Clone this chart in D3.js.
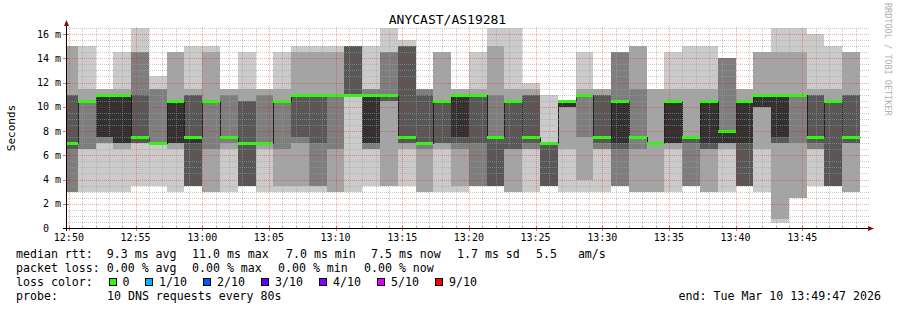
<!DOCTYPE html>
<html>
<head>
<meta charset="utf-8">
<script src="https://cdn.jsdelivr.net/npm/d3@7"></script>
<style>
	body { margin: 0; background: #fff; }
	text { font-family: "DejaVu Sans Mono", monospace; fill: #000; white-space: pre; }
</style>
</head>
<body>
<svg id="chart" width="897" height="310"></svg>
<script>
/**
 * Data.
 */
var title = "ANYCAST/AS19281";
var graphEnd = new Date(2026, 2, 10, 13, 49, 47); // end of the graph
var firstStepEnd = new Date(2026, 2, 10, 12, 50, 40); // end of the first rrd step
var stepSeconds = 80;

// 10 sorted pings (ms) for every 80s step.
var pings = [
	[3, 3, 3, 6.5, 7, 7, 11, 11, 15, 15],
	[3, 6.5, 6.5, 10.5, 10.5, 10.5, 10.5, 10.5, 11.5, 15],
	[3, 7, 7, 7.5, 7.5, 11, 11, 11, 11.5, 11.5],
	[3, 6.5, 7, 7, 7, 11, 11, 11, 11.5, 14.5],
	[3.5, 7, 7, 7, 7.5, 7.5, 11, 14.5, 14.5, 16.5],
	[3.5, 7, 7, 7, 7, 7, 7, 11.5, 11.5, 12.5],
	[3, 6.5, 7, 7, 7, 10.5, 10.5, 10.5, 14.5, 14.5],
	[3.5, 3.5, 3.5, 3.5, 7, 7.5, 11, 11, 11.5, 15],
	[3, 3, 6.5, 10.5, 10.5, 10.5, 10.5, 10.5, 14.5, 15],
	[3, 6.5, 7, 7.5, 7.5, 7.5, 7.5, 11, 11.5, 11.5],
	[3.5, 3.5, 3.5, 3.5, 7, 7, 10.5, 10.5, 11.5, 14.5],
	[3, 6.5, 7, 7, 7, 7, 7, 11, 11.5, 11.5],
	[3, 3.5, 6.5, 10.5, 10.5, 10.5, 10.5, 10.5, 11.5, 14.5],
	[3, 3.5, 7, 7.5, 11, 11, 11, 11, 14.5, 15],
	[3, 3.5, 3.5, 7, 11, 11, 11, 11, 14.5, 15],
	[3, 3, 6.5, 11, 11, 11, 11, 11, 14.5, 15],
	[3, 11, 11, 11, 11, 11, 15, 15, 15, 15],
	[3.5, 6.5, 6.5, 7, 7, 11, 11, 11.5, 11.5, 15],
	[3.5, 3.5, 10.5, 10.5, 11, 11, 11, 14.5, 14.5, 16.5],
	[3.5, 6.5, 7, 7, 7.5, 7.5, 15, 15, 15, 15.5],
	[3, 3, 6.5, 7, 7, 7, 11, 11.5, 11.5, 11.5],
	[3, 6.5, 7, 7, 10.5, 10.5, 10.5, 10.5, 14.5, 14.5],
	[3, 3.5, 6.5, 7, 7.5, 11, 11, 11, 11.5, 11.5],
	[3.5, 3.5, 3.5, 7, 11, 11, 11, 11, 11.5, 14.5],
	[3.5, 3.5, 3.5, 3.5, 7.5, 7.5, 7.5, 11, 15, 16.5],
	[3, 3, 6.5, 6.5, 10.5, 10.5, 10.5, 10.5, 11.5, 16.5],
	[3, 6.5, 6.5, 7, 7.5, 7.5, 11, 11, 11.5, 12],
	[3.5, 3.5, 3.5, 3.5, 7, 7, 7, 7, 7, 11],
	[3, 6.5, 10, 10, 10, 10.5, 10.5, 10.5, 10.5, 10.5],
	[3, 4, 7.5, 11, 11, 11, 11, 11, 11.5, 14.5],
	[3, 6.5, 6.5, 7, 7.5, 7.5, 11, 11, 11.5, 11.5],
	[3.5, 3.5, 3.5, 6.5, 7, 10.5, 10.5, 14.5, 14.5, 14.5],
	[3, 3, 6.5, 7.5, 7.5, 7.5, 7.5, 11.5, 15, 15],
	[3, 3, 7, 7, 7, 7, 7, 7, 11.5, 11.5],
	[3, 6.5, 7, 7, 7, 10.5, 10.5, 10.5, 11.5, 14.5],
	[3.5, 3.5, 3.5, 7, 7.5, 7.5, 7.5, 7.5, 11.5, 15],
	[3, 3, 6.5, 6.5, 7, 10.5, 10.5, 10.5, 11.5, 15],
	[3, 6.5, 7, 7, 7, 8, 8, 14, 14, 14],
	[3.5, 3.5, 3.5, 3.5, 7, 10.5, 10.5, 10.5, 11.5, 11.5],
	[3, 6.5, 10, 10, 10, 11, 11, 11, 14.5, 14.5],
	[0.4, 0.75, 7, 7, 7.5, 11, 11, 11, 14.5, 16.5],
	[2.5, 2.5, 7, 11, 11, 11, 11, 11, 14.5, 16.5],
	[3.5, 6.5, 6.5, 7, 7.5, 7.5, 11, 11, 11.5, 16],
	[3.5, 3.5, 3.5, 3.5, 10.5, 10.5, 10.5, 10.5, 11.5, 15],
	[3, 3, 7, 7, 7.5, 7.5, 11, 11, 14.5, 14.5]
];

// median rtt (ms) per step
var medians = [7, 10.5, 11, 11, 7.5, 7, 10.5, 7.5, 10.5, 7.5, 7, 7, 10.5, 11, 11, 11, 11, 11, 11,
	7.5, 7, 10.5, 11, 11, 7.5, 10.5, 7.5, 7, 10.5, 11, 7.5, 10.5, 7.5, 7, 10.5, 7.5, 10.5, 8, 10.5,
	11, 11, 11, 7.5, 10.5, 7.5];

// lost packets per step (out of 10)
var losses = [0, 0, 0, 0, 0, 0, 0, 0, 0, 0, 0, 0, 0, 0, 0, 0, 0, 0, 0, 0, 0, 0, 0,
	0, 0, 0, 0, 0, 0, 0, 0, 0, 0, 0, 0, 0, 0, 0, 0, 0, 0, 0, 0, 0, 0];

var yTickValues = [0, 2, 4, 6, 8, 10, 12, 14, 16];
var yTickLabels = ["0  ", "2 m", "4 m", "6 m", "8 m", "10 m", "12 m", "14 m", "16 m"];

var lossLegend = ["0", "1/10", "2/10", "3/10", "4/10", "5/10", "9/10"];
var lossColors = ["#26ff00", "#00b8ff", "#0059ff", "#5e00ff", "#7e00ff", "#dd00ff", "#ff0000"];
var smokeShades = ["#cacaca", "#a4a4a4", "#7e7e7e", "#585858", "#323232"];

var medianRow = [
	["median rtt:  9.3 ms avg", 16],
	["11.0 ms max", 192],
	["7.0 ms min", 286],
	["7.5 ms now", 371],
	["1.7 ms sd", 457],
	["5.5   am/s", 536]
];
var lossRow = [
	["packet loss: 0.00 % avg", 16],
	["0.00 % max", 192],
	["0.00 % min", 278],
	["0.00 % now", 364]
];
var probeText = "10 DNS requests every 80s";
var endText = "end: Tue Mar 10 13:49:47 2026";

{
	var svg = d3.select("#chart");
	var plot = { left: 66, right: 866, top: 28, bottom: 228 };

	var x = d3.scaleTime()
		.domain([new Date(graphEnd - 3600 * 1000), graphEnd])
		.range([plot.left, plot.right]);
	var y = d3.scaleLinear()
		.domain([0, 16.5])
		.range([plot.bottom, plot.top]);

	var steps = pings.map(function (p, i) {
		var end = new Date(+firstStepEnd + i * stepSeconds * 1000);
		return {
			start: new Date(+end - stepSeconds * 1000),
			end: end,
			pings: p,
			median: medians[i],
			loss: losses[i]
		};
	});

	svg.append("clipPath").attr("id", "plotclip")
		.append("rect")
		.attr("x", plot.left).attr("y", 0)
		.attr("width", plot.right - plot.left).attr("height", plot.bottom);

	var g = svg.append("g").attr("clip-path", "url(#plotclip)");

	// smoke: outer pair first, inner pairs on top
	smokeShades.forEach(function (shade, k) {
		g.append("g").selectAll("rect")
			.data(steps)
			.join("rect")
			.attr("x", d => x(d.start))
			.attr("width", d => x(d.end) - x(d.start))
			.attr("y", d => y(d.pings[9 - k]))
			.attr("height", d => y(d.pings[k]) - y(d.pings[9 - k]))
			.attr("fill", shade)
			.attr("shape-rendering", "crispEdges");
	});

	// grid
	var grid = svg.append("g").attr("shape-rendering", "crispEdges");
	var minorY = d3.range(0, 16.51, 0.5).filter(v => v % 2 != 0);
	var majorY = yTickValues;
	var minorX = x.ticks(d3.timeMinute.every(1)).filter(t => t.getMinutes() % 5 != 0);
	var majorX = x.ticks(d3.timeMinute.every(5));

	grid.selectAll(".hminor").data(minorY).join("line")
		.attr("x1", plot.left).attr("x2", plot.right + 3)
		.attr("y1", d => Math.round(y(d)) + 0.5).attr("y2", d => Math.round(y(d)) + 0.5)
		.attr("stroke", "rgba(160,160,160,0.55)").attr("stroke-dasharray", "1,1");
	grid.selectAll(".vminor").data(minorX).join("line")
		.attr("x1", d => Math.round(x(d)) + 0.5).attr("x2", d => Math.round(x(d)) + 0.5)
		.attr("y1", plot.bottom).attr("y2", plot.top)
		.attr("stroke", "rgba(160,160,160,0.55)").attr("stroke-dasharray", "1,1");
	grid.selectAll(".hmajor").data(majorY.slice(1)).join("line")
		.attr("x1", plot.left).attr("x2", plot.right + 3)
		.attr("y1", d => Math.round(y(d)) + 0.5).attr("y2", d => Math.round(y(d)) + 0.5)
		.attr("stroke", "rgba(255,0,0,0.35)").attr("stroke-dasharray", "1,1");
	grid.selectAll(".vmajor").data(majorX).join("line")
		.attr("x1", d => Math.round(x(d)) + 0.5).attr("x2", d => Math.round(x(d)) + 0.5)
		.attr("y1", plot.bottom).attr("y2", plot.top - 2)
		.attr("stroke", "rgba(255,0,0,0.35)").attr("stroke-dasharray", "1,1");

	// median line: thin dark step line, loss colour on top
	var medianPts = [];
	steps.forEach(function (d) {
		medianPts.push([d.start, d.median]);
		medianPts.push([d.end, d.median]);
	});
	g.append("path")
		.datum(medianPts)
		.attr("fill", "none")
		.attr("stroke", "#202020")
		.attr("stroke-width", 1)
		.attr("shape-rendering", "crispEdges")
		.attr("d", d3.line().x(d => Math.round(x(d[0])) + 0.5).y(d => Math.round(y(d[1])) + 0.5));
	g.append("g").selectAll("line")
		.data(steps)
		.join("line")
		.attr("x1", d => x(d.start)).attr("x2", d => x(d.end))
		.attr("y1", d => Math.round(y(d.median)) + 0.5).attr("y2", d => Math.round(y(d.median)) + 0.5)
		.attr("stroke", d => lossColors[d.loss])
		.attr("stroke-width", 3)
		.attr("shape-rendering", "crispEdges");

	// axes
	var axes = svg.append("g").attr("shape-rendering", "crispEdges");
	axes.selectAll(".ytick").data(yTickValues).join("line")
		.attr("x1", plot.left - 3).attr("x2", plot.left + 3)
		.attr("y1", d => Math.round(y(d)) + 0.5).attr("y2", d => Math.round(y(d)) + 0.5)
		.attr("stroke", d => d == 0 ? "#000" : "rgba(255,0,0,0.6)");
	axes.selectAll(".xtickmin").data(minorX).join("line")
		.attr("x1", d => Math.round(x(d)) + 0.5).attr("x2", d => Math.round(x(d)) + 0.5)
		.attr("y1", plot.bottom - 2).attr("y2", plot.bottom)
		.attr("stroke", "rgba(160,160,160,0.8)");
	axes.selectAll(".xtickmaj").data(majorX).join("line")
		.attr("x1", d => Math.round(x(d)) + 0.5).attr("x2", d => Math.round(x(d)) + 0.5)
		.attr("y1", plot.bottom - 2).attr("y2", plot.bottom + 3)
		.attr("stroke", "rgba(255,0,0,0.6)");
	axes.append("line")
		.attr("x1", plot.left + 0.5).attr("x2", plot.left + 0.5)
		.attr("y1", plot.bottom + 3).attr("y2", 24)
		.attr("stroke", "#000");
	axes.append("line")
		.attr("x1", plot.left - 3).attr("x2", plot.right + 4)
		.attr("y1", plot.bottom + 0.5).attr("y2", plot.bottom + 0.5)
		.attr("stroke", "#000");
	svg.append("path")
		.attr("d", "M" + (plot.left - 2) + ",26L" + (plot.left + 0.5) + ",20L" + (plot.left + 3) + ",26Z")
		.attr("fill", "#7f1010");
	svg.append("path")
		.attr("d", "M" + (plot.right + 2) + "," + (plot.bottom - 2) + "L" + (plot.right + 8) + "," + (plot.bottom + 0.5) + "L" + (plot.right + 2) + "," + (plot.bottom + 3) + "Z")
		.attr("fill", "#7f1010");

	// tick labels
	svg.append("g").selectAll("text")
		.data(yTickValues)
		.join("text")
		.attr("x", 61)
		.attr("y", d => y(d) + 3.5)
		.attr("text-anchor", "end")
		.style("font-size", "10px")
		.text((d, i) => yTickLabels[i]);
	svg.append("g").selectAll("text")
		.data(majorX)
		.join("text")
		.attr("x", d => x(d))
		.attr("y", 241)
		.attr("text-anchor", "middle")
		.style("font-size", "10px")
		.text(d3.timeFormat("%H:%M"));

	// titles
	svg.append("text")
		.attr("x", 447.5).attr("y", 23.5)
		.attr("text-anchor", "middle")
		.style("font-size", "13px")
		.text(title);
	svg.append("text")
		.attr("transform", "translate(15,128) rotate(-90)")
		.attr("text-anchor", "middle")
		.style("font-size", "11px")
		.text("Seconds");
	svg.append("text")
		.attr("transform", "translate(885,3) rotate(90)")
		.style("font-size", "8.5px")
		.style("fill", "#b0b0b0")
		.text("RRDTOOL / TOBI OETIKER");

	// legend
	var legend = svg.append("g").style("font-size", "11.6px");
	legend.selectAll(".mrow").data(medianRow).join("text")
		.attr("x", d => d[1]).attr("y", 258).text(d => d[0]);
	legend.selectAll(".lrow").data(lossRow).join("text")
		.attr("x", d => d[1]).attr("y", 272).text(d => d[0]);
	legend.append("text").attr("x", 16).attr("y", 286).text("loss color:");
	lossLegend.forEach(function (label, i) {
		var bx = 108.5 + i * 58 - (i == 0 ? 0 : 21.5);
		legend.append("rect")
			.attr("x", bx + 0.5).attr("y", 278.5)
			.attr("width", 7).attr("height", 7)
			.attr("fill", lossColors[i])
			.attr("stroke", "#000")
			.attr("shape-rendering", "crispEdges");
		legend.append("text").attr("x", bx + 14).attr("y", 286).text(label);
	});
	legend.append("text").attr("x", 16).attr("y", 300).text("probe:");
	legend.append("text").attr("x", 107).attr("y", 300).text(probeText);
	legend.append("text").attr("x", 881).attr("y", 300).attr("text-anchor", "end").text(endText);
}
</script>
</body>
</html>
